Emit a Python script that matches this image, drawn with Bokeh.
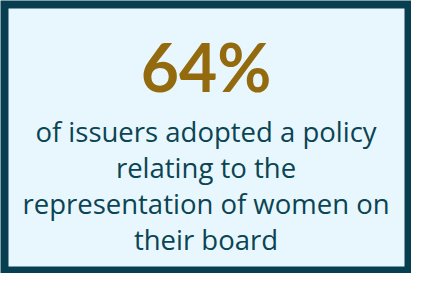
from bokeh.plotting import figure
from bokeh.models import Range1d
from bokeh.core.properties import value
from bokeh.embed import file_html
from bokeh.resources import INLINE

# Data
headline_value = [64]
headline_suffix = ["%"]
body_lines = [
    "of issuers adopted a policy",
    "relating to the",
    "representation of women on",
    "their board",
]

W, H = 411, 273
BORDER = "#073f50"
FILL = "#e8f7fe"
GOLD = "#946a0e"
TEAL = "#0b4453"

p = figure(width=W, height=H, output_backend="svg", toolbar_location=None,
           x_range=Range1d(0, W), y_range=Range1d(H, 0),
           min_border=0)
p.axis.visible = False
p.grid.visible = False
p.outline_line_color = None
p.background_fill_color = BORDER
p.border_fill_color = BORDER

p.quad(left=[8], right=[W - 7], top=[8], bottom=[H - 7],
       fill_color=FILL, line_color=None)

cx = W / 2
headline = [f"{v}{s}" for v, s in zip(headline_value, headline_suffix)]
p.text(x=[cx], y=[66], text=headline, text_align="center",
       text_baseline="alphabetic", text_color=GOLD,
       text_font=value("Lato"), text_font_style="bold",
       text_font_size="66px")

line_y = [131 + 36 * i for i in range(len(body_lines))]
p.text(x=[cx] * len(body_lines), y=line_y, text=body_lines,
       text_align="center", text_baseline="alphabetic",
       text_color=TEAL, text_font=value("Open Sans"),
       text_font_size="27.5px")

open("out.html", "w").write(file_html(p, INLINE))
